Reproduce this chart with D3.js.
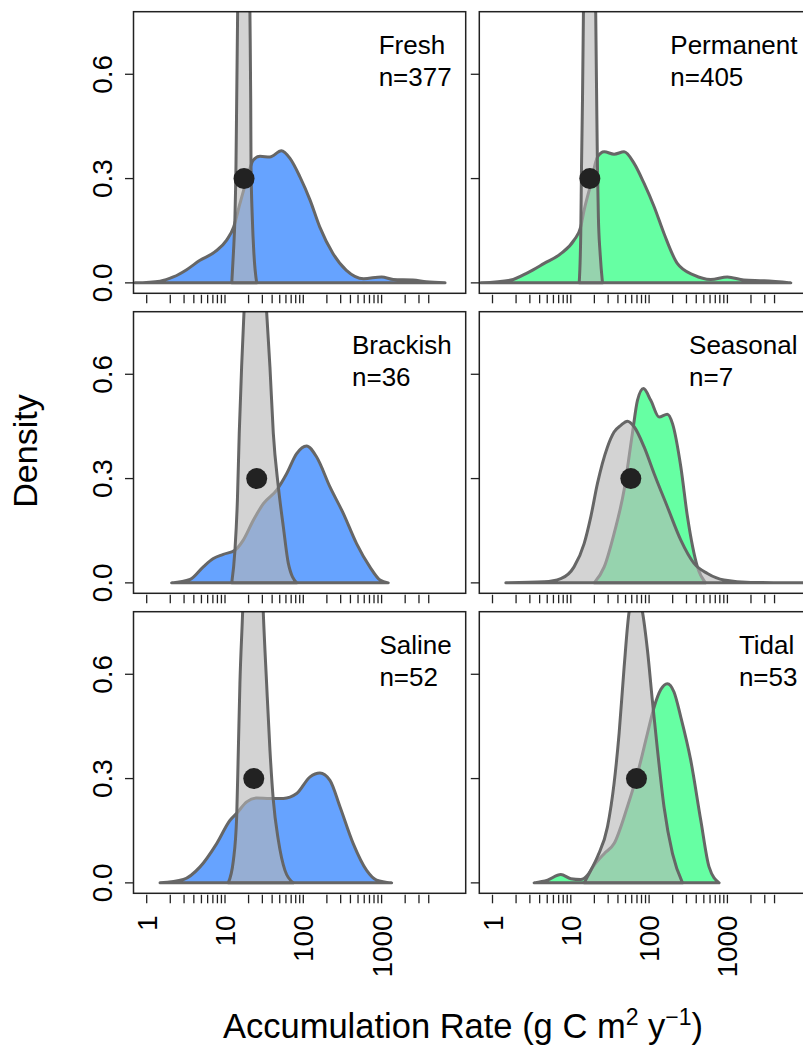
<!DOCTYPE html>
<html>
<head>
<meta charset="utf-8">
<script src="https://cdn.jsdelivr.net/npm/d3@7"></script>
<style>
  body { margin: 0; background: #fff; }
  text { font-family: "Liberation Sans", Arial, sans-serif; fill: #000; }
</style>
</head>
<body>
<script>
// panel labels and sample sizes
const panelNames = ["Fresh", "Permanent", "Brackish", "Seasonal", "Saline", "Tidal"];
const panelCounts = [377, 405, 36, 7, 52, 53];
// x position of the black marker (drawn at density 0.3)
const dotRates = [17.5, 17.5, 25.4, 58.4, 23.3, 69];
const dotDensity = 0.3;

const xTickValues = [1, 2, 3, 4, 5, 6, 7, 8, 9, 10, 20, 30, 40, 50, 60, 70, 80, 90,
  100, 200, 300, 400, 500, 600, 700, 800, 900, 1000, 2000, 3000, 4000];
const xTickLabels = [1, 10, 100, 1000];
const yTickValues = [0, 0.3, 0.6];

// [accumulation rate, density]
const freshDensity = [[0.71,0],[1.48,0.005],[2.19,0.017],[3.24,0.038],[4.79,0.065],[7.41,0.089],
  [10.5,0.123],[12.9,0.161],[15.5,0.228],[19.1,0.30],[22.9,0.353],[28,0.364],[37.5,0.362],
  [52.5,0.38],[67.6,0.358],[90.6,0.305],[122,0.238],[162,0.161],[240,0.084],[355,0.036],
  [589,0.012],[1000,0.017],[1413,0.0096],[2512,0.008],[3715,0.003],[6457,0]];
const freshRef = [[12.2,0],[12.8,0.085],[13.4,0.19],[13.8,0.333],[14.1,0.525],[14.5,0.78],
  [15.8,1.6],[17.6,2.2],[19.5,1.6],[20.8,0.78],[21.3,0.525],[21.5,0.333],[22.3,0.19],
  [23.4,0.084],[25.4,0]];

const permanentDensity = [[0.71,0],[1.71,0.008],[2.8,0.029],[4.57,0.056],[7.45,0.084],[11.0,0.123],
  [13.4,0.161],[14.5,0.2],[17.8,0.28],[21.9,0.362],[26.7,0.377],[35.7,0.37],[47.9,0.377],
  [64.6,0.343],[86.3,0.286],[116,0.219],[155,0.142],[229,0.056],[375,0.022],[612,0.0096],
  [1000,0.017],[1622,0.008],[2951,0.006],[6457,0]];
const permanentRef = [[12.8,0],[13.4,0.142],[13.7,0.333],[14.1,0.525],[14.5,0.78],[15.8,1.6],
  [17.6,2.2],[19.5,1.6],[20.8,0.78],[21.4,0.525],[21.9,0.333],[22.5,0.19],[23.7,0.084],[25.4,0]];

const brackishDensity = [[2.08,0],[3.57,0.0096],[5.28,0.046],[7.1,0.07],[9.53,0.082],[13.4,0.094],
  [17.1,0.123],[23.0,0.18],[30.9,0.228],[45.7,0.267],[61.2,0.314],[82.2,0.372],[110,0.394],
  [148,0.362],[219,0.276],[324,0.2],[479,0.113],[708,0.046],[955,0.008],[1216,0]];
const brackishRef = [[12.2,0],[13.4,0.094],[14.4,0.238],[15.2,0.43],[16.3,0.621],[17.5,0.78],
  [20,1.05],[24.5,1.2],[29.5,1.05],[34.0,0.78],[37.5,0.621],[41.4,0.43],[48.0,0.276],
  [55.6,0.161],[64.4,0.056],[82.2,0]];

const seasonalDensity = [[19.9,0],[26.7,0.046],[35.7,0.142],[47.9,0.267],[61.2,0.43],[71.0,0.525],
  [84.7,0.559],[105,0.525],[134,0.477],[171,0.485],[199,0.458],[254,0.334],[309,0.19],
  [414,0.046],[525,0]];
const seasonalRef = [[1.48,0],[4.57,0.003],[7.45,0.012],[11.0,0.046],[14.8,0.113],[18.0,0.19],
  [21.9,0.286],[29.4,0.391],[35.7,0.434],[43.5,0.453],[52.8,0.465],[64.4,0.449],[86.3,0.391],
  [116,0.314],[171,0.219],[254,0.123],[375,0.056],[556,0.027],[906,0.008],[1995,0.001],[15849,0]];

const salineDensity = [[1.48,0],[2.94,0.0096],[4.8,0.046],[7.83,0.113],[11.6,0.18],[14.1,0.2],
  [18.9,0.233],[25.4,0.244],[37.5,0.243],[55.6,0.243],[82.2,0.257],[122,0.305],[163,0.316],
  [219,0.295],[294,0.219],[434,0.113],[644,0.036],[863,0.008],[1343,0]];
const salineRef = [[11.0,0],[12.8,0.065],[14.1,0.19],[14.8,0.382],[15.5,0.573],[16.8,0.78],
  [19.1,1.2],[22.9,1.4],[26.9,1.2],[30.8,0.78],[34.0,0.573],[37.5,0.382],[41.4,0.238],
  [48.0,0.123],[58.3,0.036],[74.5,0]];

const tidalDensity = [[3.4,0],[5.04,0.008],[7.45,0.024],[10,0.012],[13.4,0.0096],[16.3,0.022],
  [19.9,0.051],[26.7,0.084],[35.7,0.113],[52.8,0.219],[71,0.314],[95.3,0.43],[116,0.506],
  [141,0.556],[171,0.573],[208,0.549],[254,0.477],[340,0.353],[457,0.18],[583,0.046],[783,0]];
const tidalRef = [[14.8,0],[18.0,0.036],[21.9,0.075],[29.4,0.161],[35.7,0.286],[41.4,0.43],
  [48.0,0.621],[55.6,0.78],[67.6,0.84],[82.2,0.78],[95.3,0.669],[110,0.525],[128,0.382],
  [155,0.219],[199,0.084],[267,0]];

const classDensities = [freshDensity, permanentDensity, brackishDensity, seasonalDensity, salineDensity, tidalDensity];
const refDensities = [freshRef, permanentRef, brackishRef, seasonalRef, salineRef, tidalRef];
const fillColors = ["#66A3FF", "#66FFA3", "#66A3FF", "#66FFA3", "#66A3FF", "#66FFA3"];

const width = 803, height = 1048;
const colX = [133.5, 479.3], rowY = [11.7, 311.7, 611.7];
const pw = 332.2, ph = 281.6;

const svg = d3.select("body").append("svg")
  .attr("width", width)
  .attr("height", height);

const x = d3.scaleLog()
  .domain([Math.pow(10, -0.1686), Math.pow(10, 4.074)])
  .range([0, pw]);
const y = d3.scaleLinear()
  .domain([-0.03, 0.78])
  .range([ph, 0]);

const area = d3.area()
  .x(d => x(d[0]))
  .y0(y(0))
  .y1(d => y(d[1]))
  .curve(d3.curveMonotoneX);

panelNames.forEach((name, i) => {
  const c = i % 2, r = Math.floor(i / 2);
  const g = svg.append("g").attr("transform", `translate(${colX[c]},${rowY[r]})`);

  g.append("clipPath").attr("id", "clip" + i)
    .append("rect").attr("width", pw).attr("height", ph);
  const plot = g.append("g").attr("clip-path", `url(#clip${i})`);

  // class density, then the reference density on top (semi-transparent)
  plot.append("path")
    .datum(classDensities[i])
    .attr("d", area)
    .attr("fill", fillColors[i])
    .attr("stroke", "#666")
    .attr("stroke-width", 3)
    .attr("stroke-linejoin", "round");
  plot.append("path")
    .datum(refDensities[i])
    .attr("d", area)
    .attr("fill", "#b5b5b5")
    .attr("fill-opacity", 0.6)
    .attr("stroke", "#666")
    .attr("stroke-width", 3)
    .attr("stroke-linejoin", "round");

  plot.append("circle")
    .attr("cx", x(dotRates[i]))
    .attr("cy", y(dotDensity))
    .attr("r", 10.5)
    .attr("fill", "#222");

  g.append("rect")
    .attr("width", pw).attr("height", ph)
    .attr("fill", "none")
    .attr("stroke", "#222")
    .attr("stroke-width", 1.5);

  // y ticks
  g.selectAll(".yt").data(yTickValues).enter().append("line")
    .attr("x1", -8.5).attr("x2", 0)
    .attr("y1", d => y(d)).attr("y2", d => y(d))
    .attr("stroke", "#222").attr("stroke-width", 1.3);
  if (c === 0) {
    g.selectAll(".yl").data(yTickValues).enter().append("text")
      .attr("transform", d => `translate(-21.5,${y(d)}) rotate(-90)`)
      .attr("text-anchor", "middle")
      .style("font-size", "28px")
      .text(d => d.toFixed(1));
  }

  // x ticks
  g.selectAll(".xt").data(xTickValues).enter().append("line")
    .attr("x1", d => x(d)).attr("x2", d => x(d))
    .attr("y1", ph + 1.5).attr("y2", ph + 10)
    .attr("stroke", "#222").attr("stroke-width", 1.3);
  if (r === 2) {
    g.selectAll(".xl").data(xTickLabels).enter().append("text")
      .attr("transform", d => `translate(${x(d)},${ph + 22}) rotate(-90)`)
      .attr("text-anchor", "end")
      .attr("dy", "0.36em")
      .style("font-size", "28px")
      .text(d => d);
  }

  // panel label, left-aligned block against the top-right corner
  const t1 = g.append("text").attr("y", 42.3).style("font-size", "26px").text(name);
  const t2 = g.append("text").attr("y", 74.3).style("font-size", "26px").text("n=" + panelCounts[i]);
  const w = Math.max(t1.node().getComputedTextLength(), t2.node().getComputedTextLength());
  t1.attr("x", pw - 14 - w);
  t2.attr("x", pw - 14 - w);
});

svg.append("text")
  .attr("transform", "translate(37,451) rotate(-90)")
  .attr("text-anchor", "middle")
  .style("font-size", "34px")
  .text("Density");

const xt = svg.append("text")
  .attr("x", 463).attr("y", 1038)
  .attr("text-anchor", "middle")
  .style("font-size", "34.5px");
xt.append("tspan").text("Accumulation Rate (g C m");
xt.append("tspan").attr("dy", -13).style("font-size", "23px").text("2");
xt.append("tspan").attr("dy", 13).text(" y");
xt.append("tspan").attr("dy", -13).style("font-size", "23px").text("\u22121");
xt.append("tspan").attr("dy", 13).text(")");
</script>
</body>
</html>
